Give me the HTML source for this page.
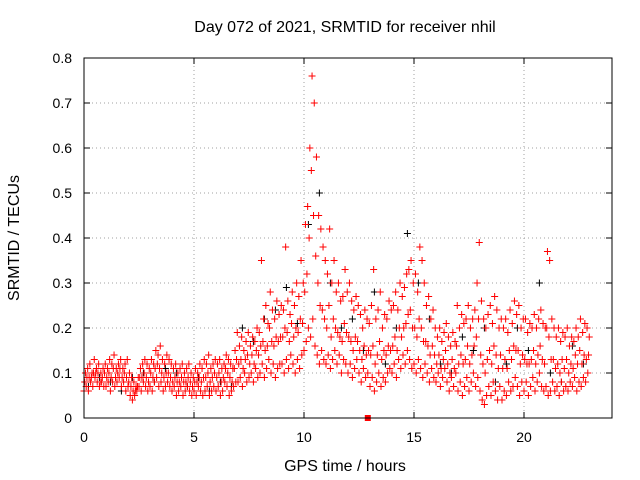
<!DOCTYPE html>
<html><head><meta charset="utf-8"><style>
body{margin:0;background:#fff}
svg{display:block;font-family:"Liberation Sans",sans-serif}
</style></head><body>
<svg id="chart" width="640" height="480">
<text x="345" y="32" font-size="16" text-anchor="middle">Day 072 of 2021, SRMTID for receiver nhil</text>
<text transform="translate(19,238) rotate(-90)" font-size="16" text-anchor="middle">SRMTID / TECUs</text>
<text x="345" y="471" font-size="16" text-anchor="middle">GPS time / hours</text>
<g id="grid"></g>
<g id="ticks"></g>
<g id="black"></g>
<g id="red"></g>
<rect x="84" y="58" width="528" height="360" fill="none" stroke="#000" stroke-width="1"/>
</svg>
<script>
const xTicks=[0,5,10,15,20];
const yTicks=[0,0.1,0.2,0.3,0.4,0.5,0.6,0.7,0.8];
const yTickLabels=["0","0.1","0.2","0.3","0.4","0.5","0.6","0.7","0.8"];
const redLow=[.06,.07,.06,.08,.07,.09,.08,.07,.08,.07,.07,.08,.06,.08,.07,.08,.09,.07,.08,.06,.07,.05,.04,.05,.06,.07,.06,.08,.07,.06,.07,.06,.08,.09,.07,.08,.06,.07,.08,.07,.06,.07,.05,.06,.07,.05,.06,.07,.06,.05,.06,.05,.07,.06,.05,.06,.07,.05,.06,.07,.06,.07,.05,.06,.08,.07,.05,.06,.07,.08,.08,.09,.07,.1,.08,.09,.1,.08,.11,.09,.1,.12,.09,.11,.13,.1,.12,.09,.11,.12,.12,.1,.13,.11,.14,.12,.1,.13,.11,.14,.15,.17,.2,.18,.22,.16,.14,.12,.15,.13,.12,.14,.11,.13,.15,.12,.14,.1,.13,.12,.1,.12,.09,.11,.13,.1,.08,.11,.09,.1,.07,.09,.06,.08,.1,.07,.09,.08,.1,.11,.1,.12,.09,.13,.11,.14,.12,.15,.13,.11,.12,.1,.13,.11,.09,.12,.1,.08,.11,.09,.08,.1,.07,.09,.11,.08,.06,.09,.07,.1,.06,.08,.05,.07,.09,.06,.08,.1,.07,.09,.06,.04,.03,.05,.07,.05,.08,.06,.04,.07,.04,.06,.05,.08,.06,.07,.09,.07,.05,.08,.06,.08,.05,.07,.09,.06,.08,.1,.07,.06,.07,.05,.06,.08,.06,.07,.05,.08,.06,.07,.06,.08,.07,.09,.06,.08,.07,.09,.08,.1];
const redMid=[.08,.09,.09,.09,.1,.1,.1,.08,.09,.1,.09,.1,.09,.11,.09,.1,.11,.09,.1,.09,.08,.07,.06,.06,.07,.09,.09,.1,.09,.08,.1,.09,.11,.12,.11,.1,.09,.1,.1,.09,.08,.09,.08,.08,.09,.08,.08,.09,.08,.07,.08,.08,.09,.08,.09,.09,.1,.08,.09,.1,.09,.1,.08,.09,.11,.1,.09,.08,.11,.13,.12,.13,.11,.13,.14,.12,.14,.12,.15,.14,.16,.17,.15,.16,.2,.17,.16,.18,.17,.18,.18,.2,.19,.17,.21,.18,.2,.19,.22,.21,.28,.32,.4,.55,.45,.36,.3,.25,.24,.22,.2,.25,.18,.22,.2,.19,.18,.17,.21,.19,.18,.17,.15,.18,.17,.15,.13,.16,.14,.15,.14,.16,.12,.14,.17,.13,.15,.14,.16,.15,.16,.18,.15,.2,.18,.2,.21,.23,.24,.2,.2,.18,.22,.2,.17,.17,.16,.14,.16,.14,.12,.14,.11,.13,.15,.12,.1,.13,.11,.16,.12,.14,.12,.13,.16,.12,.14,.16,.18,.22,.14,.12,.1,.13,.15,.12,.16,.14,.11,.14,.11,.13,.11,.15,.13,.16,.15,.15,.12,.14,.13,.12,.12,.13,.15,.12,.14,.16,.13,.12,.2,.18,.13,.13,.11,.12,.1,.13,.11,.13,.1,.12,.11,.14,.12,.15,.12,.14,.13,.14];
const redHigh=[.1,.11,.12,.1,.13,.11,.12,.1,.11,.12,.11,.13,.12,.14,.11,.12,.13,.11,.12,.13,.1,.09,.08,.07,.09,.11,.12,.13,.12,.11,.13,.12,.15,.14,.16,.13,.12,.14,.13,.12,.11,.12,.1,.11,.12,.1,.11,.12,.1,.09,.11,.1,.12,.11,.13,.12,.14,.11,.12,.13,.12,.13,.11,.12,.14,.13,.12,.11,.15,.19,.16,.18,.15,.17,.19,.16,.18,.17,.2,.19,.35,.22,.25,.21,.28,.24,.22,.26,.23,.25,.24,.38,.26,.23,.28,.25,.3,.27,.35,.3,.43,.47,.6,.76,.7,.58,.45,.42,.38,.35,.32,.42,.3,.35,.28,.3,.26,.27,.33,.28,.3,.26,.24,.27,.25,.23,.2,.24,.22,.21,.25,.33,.22,.24,.28,.2,.23,.22,.26,.24,.25,.28,.24,.3,.27,.29,.32,.33,.35,.3,.32,.28,.38,.35,.3,.25,.27,.22,.24,.2,.18,.2,.17,.19,.21,.18,.16,.19,.17,.25,.2,.23,.21,.22,.25,.2,.22,.24,.3,.39,.26,.22,.2,.23,.25,.21,.27,.24,.2,.22,.2,.22,.19,.24,.21,.26,.23,.25,.2,.22,.22,.19,.21,.2,.23,.2,.22,.24,.21,.2,.37,.35,.22,.2,.18,.2,.17,.19,.18,.2,.16,.18,.17,.2,.18,.22,.19,.21,.2,.18];
const blackVals=[.07,.09,.08,.06,.09,.1,.08,.11,.1,.07,.09,.06,.08,.07,.2,.17,.22,.24,.29,.21,.43,.5,.3,.2,.22,.15,.28,.12,.2,.41,.3,.22,.12,.1,.18,.15,.2,.08,.12,.2,.15,.3,.1,.08,.16,.12];
const redStep=0.1, blackStep=0.5;

const NS="http://www.w3.org/2000/svg";
const X=t=>84+t*22, Y=v=>418-v*450;
function mk(tag,attrs,parent){const e=document.createElementNS(NS,tag);for(const k in attrs)e.setAttribute(k,attrs[k]);parent.appendChild(e);return e;}
const grid=document.getElementById('grid'), ticks=document.getElementById('ticks');
xTicks.forEach(t=>{
  if(t>0){const l=mk('line',{x1:X(t),x2:X(t),y1:58,y2:418,stroke:'#a0a0a0','stroke-dasharray':'1,3'},grid);
  
  }
  mk('line',{x1:X(t),x2:X(t),y1:418,y2:412,stroke:'#000'},ticks);
  mk('line',{x1:X(t),x2:X(t),y1:58,y2:64,stroke:'#000'},ticks);
  const tx=mk('text',{x:X(t),y:442,'font-size':14,'text-anchor':'middle'},ticks);tx.textContent=t;
  
  
});
yTicks.forEach((v,i)=>{
  if(v>0&&v<0.8){const l=mk('line',{x1:84,x2:612,y1:Y(v),y2:Y(v),stroke:'#a0a0a0','stroke-dasharray':'1,3'},grid);
  
  }
  mk('line',{x1:84,x2:90,y1:Y(v),y2:Y(v),stroke:'#000'},ticks);
  mk('line',{x1:606,x2:612,y1:Y(v),y2:Y(v),stroke:'#000'},ticks);
  const tx=mk('text',{x:72,y:Y(v)+5,'font-size':14,'text-anchor':'end'},ticks);tx.textContent=yTickLabels[i];
  
  
});
function plus(g,t,v,c){
  const x=X(t),y=Y(v);
  const p=mk('path',{d:`M${x-3.5} ${y}h7M${x} ${y-3.5}v7`,stroke:c,'stroke-width':1,fill:'none'},g);
  
  
}
const bg=document.getElementById('black'), rg=document.getElementById('red');
blackVals.forEach((v,i)=>plus(bg,i*blackStep+0.2,v,'#000'));
[redLow,redMid,redHigh].forEach((arr,k)=>arr.forEach((v,i)=>plus(rg,i*redStep+k*0.033,v,'#f00')));
const sq=mk('rect',{x:X(12.9)-3,y:415,width:6,height:6,fill:'#f00'},rg);


</script>
</body></html>
